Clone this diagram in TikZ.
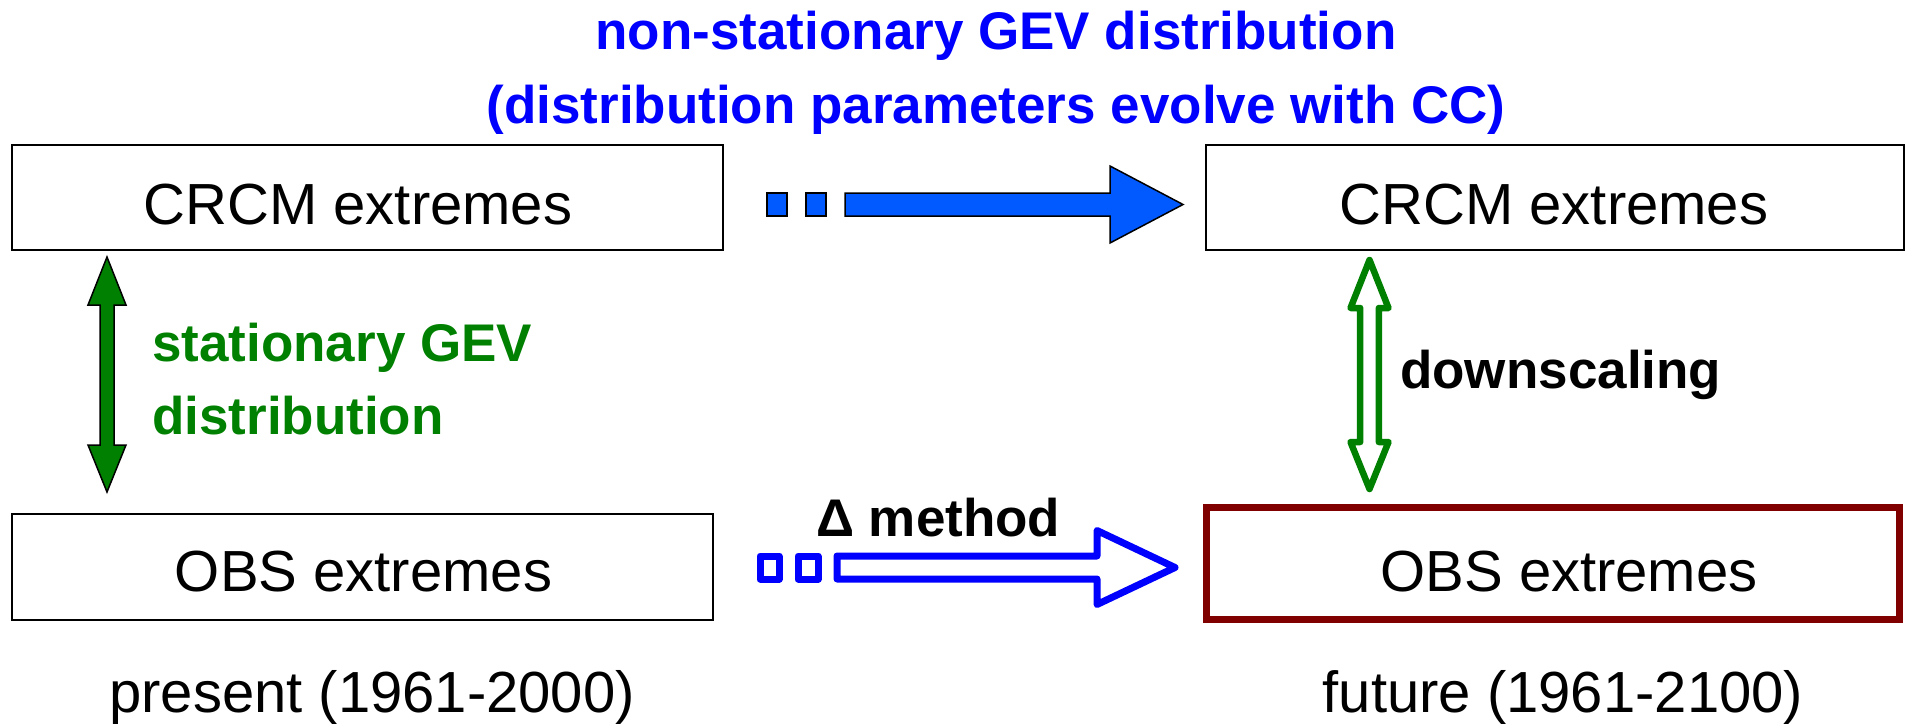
\documentclass[tikz,border=0pt]{standalone}
\usepackage{fontspec}
\setmainfont{Liberation Sans}
\definecolor{titleblue}{RGB}{0,0,255}
\definecolor{fillblue}{RGB}{0,90,255}
\definecolor{arrgreen}{RGB}{0,128,0}
\definecolor{boxred}{RGB}{128,0,0}
\begin{document}
\begin{tikzpicture}[x=1pt,y=-1pt,
  box/.style={draw=black,line width=1.5pt,inner sep=0pt},
  redbox/.style={draw=boxred,line width=7pt,inner sep=0pt},
  big/.style={font=\fontsize{58}{70}\selectfont,inner sep=0pt},
  bold/.style={font=\fontsize{53}{64}\selectfont\bfseries,inner sep=0pt},
  solidarrow/.style={fill=fillblue,draw=black,line width=1.5pt,line join=miter},
  hollowarrow/.style={fill=white,draw=titleblue,line width=7pt,line join=round},
  greensolid/.style={fill=arrgreen,draw=black,line width=1.5pt},
  greenhollow/.style={fill=white,draw=arrgreen,line width=6.5pt,line join=round}]
\useasboundingbox (0,0) rectangle (1905,723);

% title
\node[bold,text=titleblue,anchor=base] (title1) at (996,49) {non-stationary GEV distribution};
\node[bold,text=titleblue,anchor=base] (title2) at (996,123) {(distribution parameters evolve with CC)};

% boxes
\node[box,minimum width=711pt,minimum height=105pt] (crcmL) at (367.5,197.5) {};
\node[box,minimum width=698pt,minimum height=105pt] (crcmR) at (1555,197.5) {};
\node[box,minimum width=701pt,minimum height=106pt] (obsL) at (362.5,567) {};
\node[redbox,minimum width=693pt,minimum height=112pt] (obsR) at (1553,563.5) {};

\node[big,anchor=base] (crcmLt) at (358,224) {CRCM extremes};
\node[big,anchor=base] (crcmRt) at (1554,224) {CRCM extremes};
\node[big,anchor=base] (obsLt) at (363.5,591) {OBS extremes};
\node[big,anchor=base] (obsRt) at (1569,591) {OBS extremes};

\node[big,anchor=base] (present) at (372,712) {present (1961-2000)};
\node[big,anchor=base] (future) at (1563,712) {future (1961-2100)};

% top solid blue arrow
\draw[solidarrow] (767,193) rectangle (787,216);
\draw[solidarrow] (806,193) rectangle (826,216);
\draw[solidarrow] (845,193) -- (1110,193) -- (1110,166) -- (1183,204.5) -- (1110,243) -- (1110,216) -- (845,216) -- cycle;

% bottom hollow blue arrow
\draw[hollowarrow] (760,556) rectangle (779,579);
\draw[hollowarrow] (798,556) rectangle (818,579);
\draw[hollowarrow] (837,556) -- (1097,556) -- (1097,530.5) -- (1175,567.5) -- (1097,604.5) -- (1097,579) -- (837,579) -- cycle;
\node[bold,anchor=base west] (delta) at (816,536) {Δ method};

% left green solid double arrow
\draw[greensolid] (107,257) -- (126,305) -- (114,305) -- (114,445) -- (126,445) -- (107,492) -- (88,445) -- (100,445) -- (100,305) -- (88,305) -- cycle;
\node[bold,text=arrgreen,anchor=base west] (stat1) at (152,361) {stationary GEV};
\node[bold,text=arrgreen,anchor=base west] (stat2) at (152,434) {distribution};

% right green hollow double arrow
\draw[greenhollow] (1369.5,260) -- (1388.5,308) -- (1378.8,308) -- (1378.8,442) -- (1388.5,442) -- (1369.5,489) -- (1350.5,442) -- (1360.2,442) -- (1360.2,308) -- (1350.5,308) -- cycle;
\node[bold,anchor=base west] (down) at (1400,388) {downscaling};
\end{tikzpicture}
\end{document}
